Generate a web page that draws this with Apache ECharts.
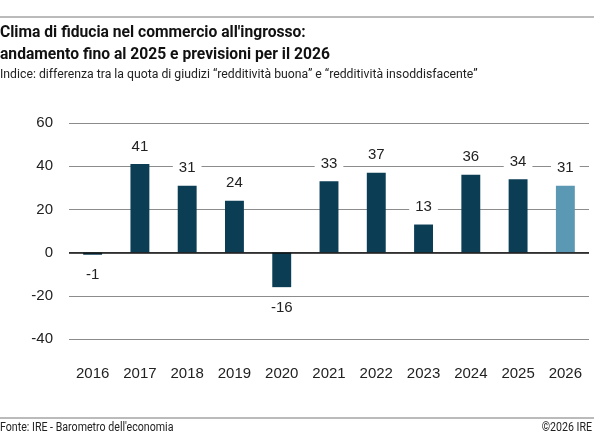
<!DOCTYPE html>
<html>
<head>
<meta charset="utf-8">
<script src="https://cdn.jsdelivr.net/npm/echarts@6/dist/echarts.min.js"></script>
<style>
  html, body { margin: 0; padding: 0; background: #fff; }
  #chart { width: 594px; height: 438px; }
</style>
</head>
<body>
<div id="chart"></div>
<script>
// dati
var anni = ['2016', '2017', '2018', '2019', '2020', '2021', '2022', '2023', '2024', '2025', '2026'];
var valori = [-1, 41, 31, 24, -16, 33, 37, 13, 36, 34, 31];
var previsione = ['2026']; // anni di previsione, colore più chiaro

var coloreBase = '#0b3d55';
var colorePrev = '#5a98b3';
var fontNarrow = 'Roboto, "Noto Sans", sans-serif';
var fontNum = '"Liberation Sans", Arial, sans-serif';

var chart = echarts.init(document.getElementById('chart'));

var barData = valori.map(function (v, i) {
    return {
        value: v,
        itemStyle: { color: previsione.indexOf(anni[i]) >= 0 ? colorePrev : coloreBase },
        label: { position: v < 0 ? 'bottom' : 'top', distance: v < 0 ? 12 : 9 }
    };
});

var option = {
    animation: false,
    backgroundColor: '#fff',
    graphic: [
        { type: 'line', shape: { x1: 0, y1: 17, x2: 594, y2: 17 }, style: { stroke: '#777', lineWidth: 1 } },
        { type: 'line', shape: { x1: 0, y1: 418, x2: 594, y2: 418 }, style: { stroke: '#777', lineWidth: 1 } },
        // titolo e sottotitolo (stringati un po' per imitare il carattere narrow)
        {
            type: 'text', x: 0, y: 22, scaleX: 0.92,
            style: {
                text: "Clima di fiducia nel commercio all'ingrosso:\nandamento fino al 2025 e previsioni per il 2026",
                font: 'bold 17px ' + fontNarrow, fill: '#111', lineHeight: 22
            }
        },
        {
            type: 'text', x: 0, y: 68, scaleX: 0.98,
            style: {
                text: 'Indice: differenza tra la quota di giudizi \u201credditivit\u00e0 buona\u201d e \u201credditivit\u00e0 insoddisfacente\u201d',
                font: '12.5px ' + fontNarrow, fill: '#222'
            }
        },
        {
            type: 'text', x: 0, y: 421, scaleX: 0.85,
            style: { text: "Fonte: IRE - Barometro dell'economia", font: '12.5px ' + fontNarrow, fill: '#222' }
        },
        {
            type: 'text', x: 592, y: 421, scaleX: 0.85,
            style: { text: '\u00a92026 IRE', font: '12.5px ' + fontNarrow, fill: '#222', align: 'right' }
        }
    ],
    grid: {
        left: 69,
        right: 5,
        top: 123,
        bottom: 99,
        containLabel: false
    },
    xAxis: {
        type: 'category',
        data: anni,
        axisLine: { show: false },
        axisTick: { show: false },
        axisLabel: {
            margin: 27,
            fontFamily: fontNum,
            fontSize: 15,
            color: '#222'
        }
    },
    yAxis: {
        type: 'value',
        min: -40,
        max: 60,
        interval: 20,
        axisLine: { show: false },
        axisTick: { show: false },
        axisLabel: {
            margin: 16,
            fontFamily: fontNum,
            fontSize: 15,
            color: '#222'
        },
        splitLine: {
            lineStyle: { color: '#8c8c8c', width: 1 }
        }
    },
    series: [
        {
            type: 'bar',
            data: barData,
            barWidth: '40%',
            label: {
                show: true,
                fontFamily: fontNum,
                fontSize: 15,
                color: '#222',
                backgroundColor: '#fff',
                padding: [1, 6]
            },
            markLine: {
                silent: true,
                symbol: 'none',
                label: { show: false },
                lineStyle: { color: '#111', width: 1.5, type: 'solid' },
                data: [{ yAxis: 0 }]
            },
            z: 3
        }
    ]
};

chart.setOption(option);
</script>
</body>
</html>
